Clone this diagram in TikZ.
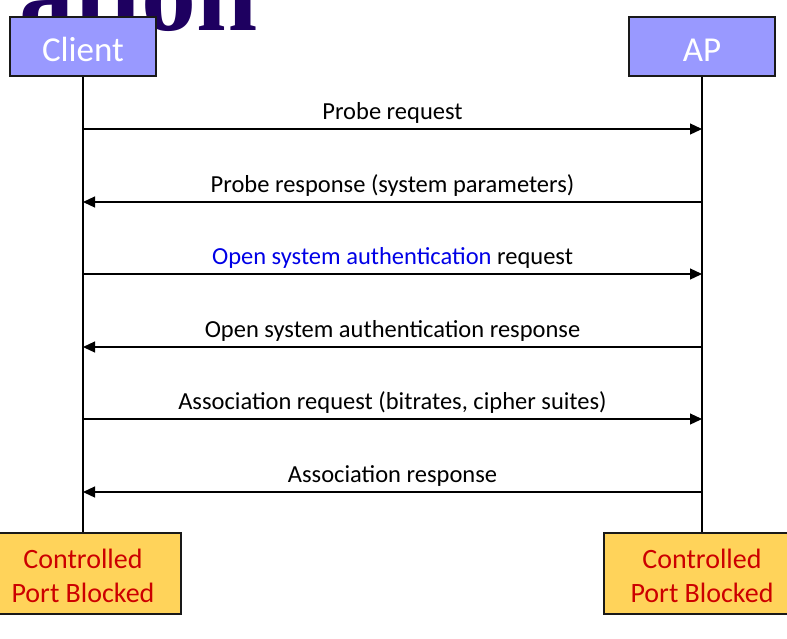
\documentclass[tikz,border=0pt]{standalone}
\usepackage{fontspec}
\setmainfont{Carlito}
\newfontfamily\titlefont{Liberation Serif}
\usetikzlibrary{positioning, arrows.meta}

\definecolor{actorblue}{HTML}{9999FF}
\definecolor{portyellow}{HTML}{FFD35A}
\definecolor{portred}{HTML}{CC0000}
\definecolor{authblue}{HTML}{0000E6}
\definecolor{titlenavy}{HTML}{1E0060}

\tikzset{
  actor/.style={draw=black!90, line width=1.2pt, fill=actorblue, text=white,
    minimum width=146pt, minimum height=59pt, inner sep=0pt,
    text height=29pt, text depth=0pt,
    font=\fontsize{35}{38}\selectfont},
  port/.style={draw=black!90, line width=1.2pt, fill=portyellow, text=portred,
    minimum width=196pt, minimum height=81pt, inner sep=0pt, align=center,
    font=\fontsize{28}{34}\selectfont},
  msg/.style={above, inner sep=0pt, yshift=4.5pt, text=black,
    font=\fontsize{24.5}{28}\selectfont},
}

\begin{document}
\begin{tikzpicture}[x=1pt,y=-1pt,->,>={Triangle[length=12pt,width=11pt]},line width=1.2pt]
\useasboundingbox (0,0) rectangle (787,638);

\node[anchor=base east, text=titlenavy, inner sep=0pt,
  font=\titlefont\bfseries\fontsize{110}{110}\selectfont] (title) at (258,30) {ation};

\node[actor] (client) at (83,46.5) {Client};
\node[actor] (ap) at (702,46.5) {AP};
\node[port] (cport) at (83,573.5) {\rule{0pt}{25pt}Controlled\\Port Blocked};
\node[port] (aport) at (702,573.5) {\rule{0pt}{25pt}Controlled\\Port Blocked};

\draw[-] (client) -- (cport);
\draw[-] (ap) -- (aport);

\foreach \y [count=\i] in {129,202,274,347,419,492}
  {\coordinate (c\i) at (83,\y);
   \coordinate (a\i) at (702,\y);}

\draw[->] (c1) -- node[msg] {Probe request} (a1);
\draw[->] (a2) -- node[msg] {Probe response (system parameters)} (c2);
\draw[->] (c3) -- node[msg] {\textcolor{authblue}{Open system authentication} request} (a3);
\draw[->] (a4) -- node[msg] {Open system authentication response} (c4);
\draw[->] (c5) -- node[msg] {Association request (bitrates, cipher suites)} (a5);
\draw[->] (a6) -- node[msg] {Association response} (c6);

\end{tikzpicture}
\end{document}
